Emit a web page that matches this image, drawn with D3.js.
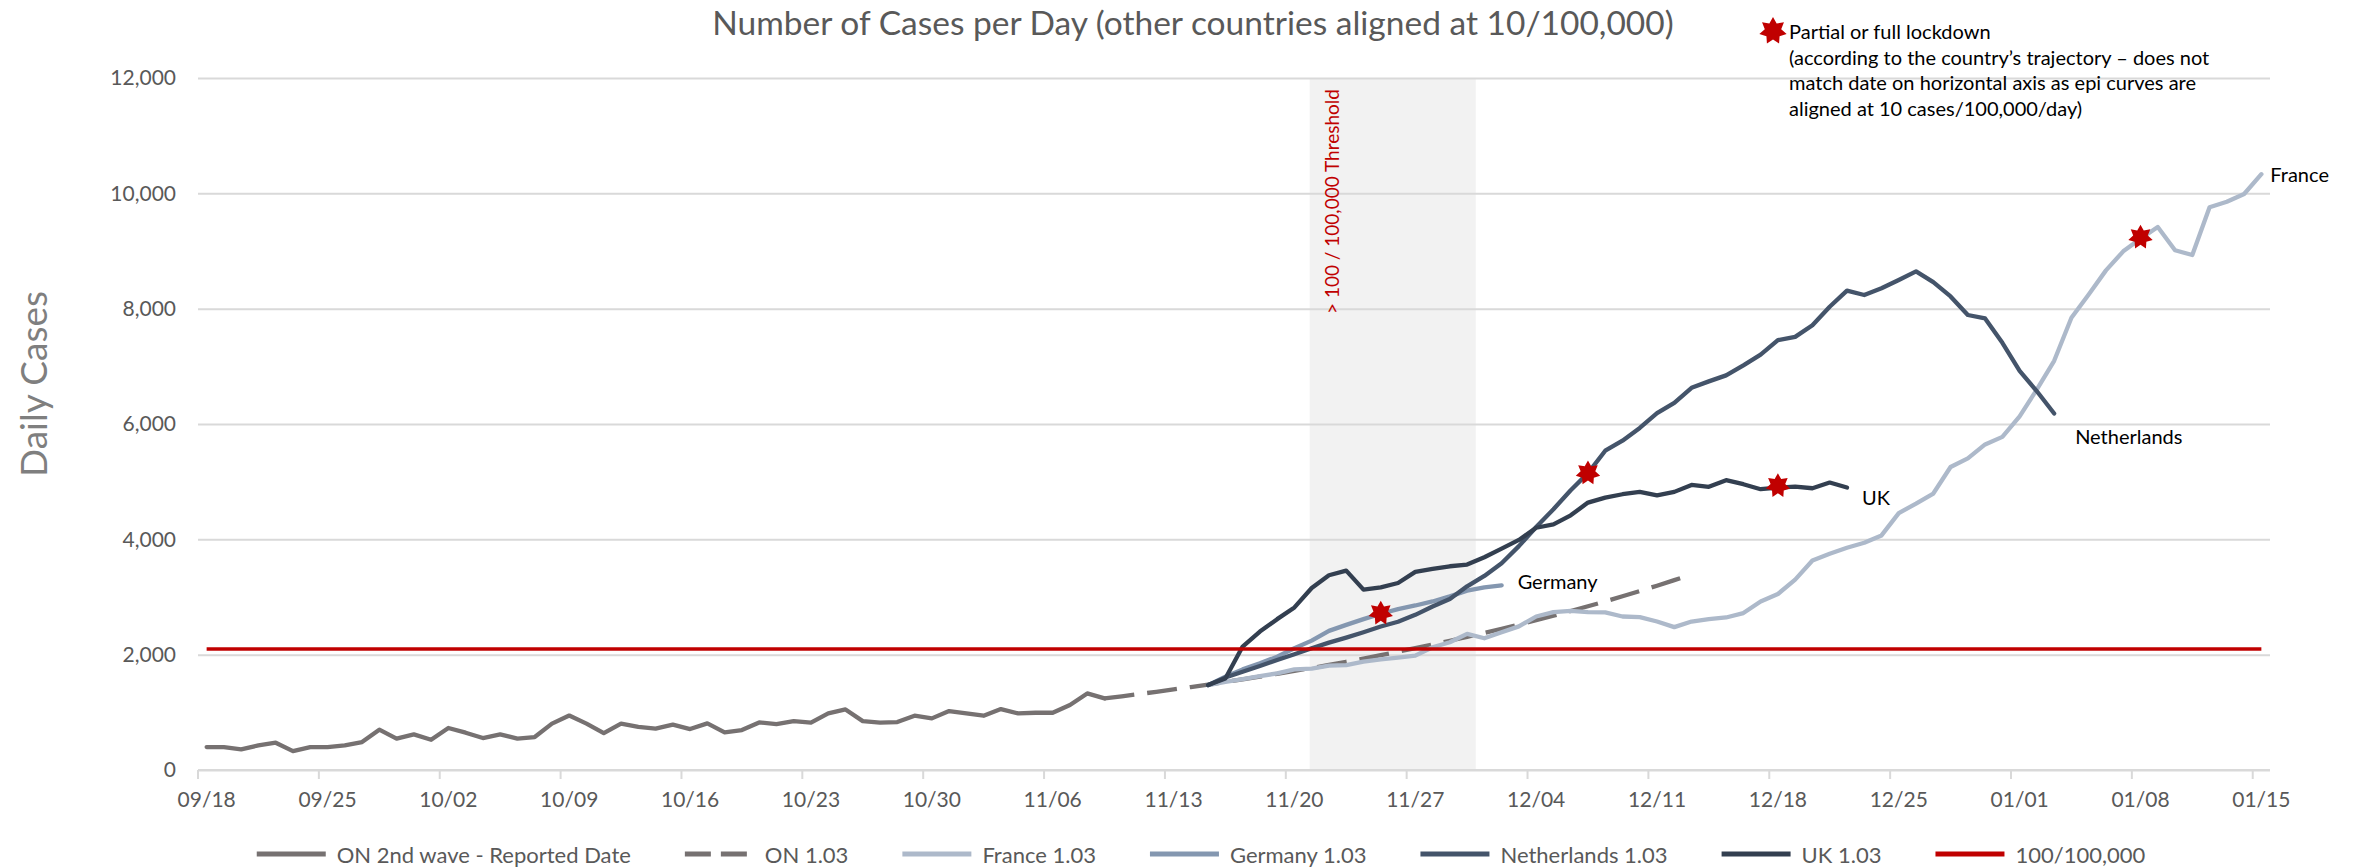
<!DOCTYPE html>
<html>
<head>
<meta charset="utf-8">
<script src="https://cdn.jsdelivr.net/npm/d3@7"></script>
<style>
  body { margin: 0; background: #fff; }
  svg { display: block; font-family: Lato, "Open Sans", sans-serif; }
</style>
</head>
<body>
<svg id="chart" width="2356" height="867"></svg>
<script>
// Daily cases: Ontario second wave vs. other countries aligned at 10/100,000

// ---- data ----
// one category per day, 09/18/2020 .. 01/15/2021
const categories = d3.timeDay.range(new Date(2020, 8, 18), new Date(2021, 0, 16)).map(d3.timeFormat("%m/%d"));
const tickLabels = ["09/18", "09/25", "10/02", "10/09", "10/16", "10/23", "10/30", "11/06", "11/13",
    "11/20", "11/27", "12/04", "12/11", "12/18", "12/25", "01/01", "01/08", "01/15"];
const yTicks = [0, 2000, 4000, 6000, 8000, 10000, 12000];

// ON 2nd wave - reported date, from 09/18
const onReportedStart = "09/18";
const onReported = [397, 397, 357, 427, 473, 328, 397, 397, 427, 485, 700, 543, 618, 525, 729, 647,
    554, 618, 543, 572, 804, 944, 804, 641, 804, 746, 717, 787, 710, 808, 652, 693, 825, 797, 848,
    820, 981, 1050, 848, 820, 831, 941, 895, 1022, 981, 941, 1056, 981, 993, 993, 1126, 1328, 1241];

// ON 1.03 projection, from 11/09
const onProjectionStart = "11/09";
const onProjection = [1241, 1278, 1317, 1356, 1397, 1439, 1482, 1526, 1572, 1619, 1668, 1718, 1769,
    1822, 1877, 1933, 1991, 2051, 2113, 2176, 2241, 2309, 2378, 2449, 2523, 2598, 2676, 2757, 2839,
    2924, 3012, 3103, 3196, 3292, 3390];

// other countries, aligned to start on 11/15
const countriesStart = "11/15";
const france = [1472, 1530, 1577, 1629, 1675, 1745, 1757, 1809, 1820, 1879, 1919, 1948, 1983, 2128,
    2215, 2360, 2285, 2389, 2490, 2662, 2738, 2761, 2738, 2732, 2662, 2651, 2575, 2477, 2575, 2616,
    2645, 2721, 2923, 3052, 3301, 3632, 3749, 3853, 3940, 4068, 4455, 4620, 4794, 5255, 5403, 5646,
    5777, 6132, 6599, 7096, 7843, 8247, 8664, 8994, 9211, 9417, 9013, 8931, 9759, 9853, 9989, 10332];
const germany = [1472, 1617, 1745, 1850, 1965, 2111, 2244, 2413, 2517, 2616, 2709, 2790, 2853, 2923,
    3011, 3109, 3168, 3202];
const netherlands = [1472, 1603, 1704, 1803, 1908, 2006, 2111, 2209, 2296, 2389, 2488, 2570, 2691,
    2836, 2964, 3185, 3365, 3586, 3882, 4213, 4521, 4852, 5148, 5537, 5711, 5932, 6187, 6367, 6628,
    6739, 6843, 7017, 7203, 7453, 7511, 7714, 8034, 8312, 8237, 8353, 8498, 8647, 8460, 8212, 7890,
    7830, 7407, 6922, 6567, 6182];
const uk = [1472, 1588, 2140, 2401, 2616, 2819, 3156, 3377, 3458, 3127, 3168, 3243, 3435, 3487, 3533,
    3562, 3690, 3840, 3990, 4201, 4259, 4416, 4637, 4724, 4782, 4823, 4764, 4823, 4944, 4910, 5026,
    4956, 4869, 4898, 4915, 4886, 4985, 4898];

// 100/100,000 threshold (per day)
const threshold = 2100;

// shaded "> 100 / 100,000" period
const shadeStart = "11/21";
const shadeEnd = "11/30";

// lockdown markers (date on the aligned axis, value)
const lockdownDates = ["11/25", "12/07", "12/18", "01/08"];
const lockdownValues = [2720, 5150, 4930, 9240];

const annotationLines = [
    "Partial or full lockdown",
    "(according to the country\u2019s trajectory \u2013 does not",
    "match date on horizontal axis as epi curves are",
    "aligned at 10 cases/100,000/day)"
];

// ---- layout ----
const plot = { left: 198, right: 2270, top: 78, bottom: 770 };
const RED = "#c00000";
const GRID = "#d9d9d9";
const TEXT = "#595959";

const svg = d3.select("#chart");

const x = d3.scaleBand().domain(categories).range([plot.left, plot.right]).padding(0);
const cx = d => x(d) + x.bandwidth() / 2;
const y = d3.scaleLinear().domain([0, 12000]).range([plot.bottom, plot.top]);

function toPoints(start, values) {
    const i0 = categories.indexOf(start);
    return values.map((v, k) => ({ cat: categories[i0 + k], v }));
}

const series = [
    { name: "ON 2nd wave - Reported Date", color: "#767171", dash: null, points: toPoints(onReportedStart, onReported) },
    { name: "ON 1.03", color: "#767171", dash: "30,13", points: toPoints(onProjectionStart, onProjection) },
    { name: "France 1.03", color: "#adb9ca", dash: null, points: toPoints(countriesStart, france), label: "France", dx: 9, dy: 0 },
    { name: "Germany 1.03", color: "#8497b0", dash: null, points: toPoints(countriesStart, germany), label: "Germany", dx: 16, dy: -4 },
    { name: "Netherlands 1.03", color: "#44546a", dash: null, points: toPoints(countriesStart, netherlands), label: "Netherlands", dx: 21, dy: 22 },
    { name: "UK 1.03", color: "#333f50", dash: null, points: toPoints(countriesStart, uk), label: "UK", dx: 15, dy: 9 }
];

// shaded band
svg.append("rect")
    .attr("x", cx(shadeStart) - 2)
    .attr("y", y(12000))
    .attr("width", x(shadeEnd) + x.bandwidth() - cx(shadeStart) + 2)
    .attr("height", y(0) - y(12000))
    .attr("fill", "#f2f2f2");

// y gridlines + labels
const yAxis = svg.append("g")
    .attr("transform", `translate(${plot.left},0)`)
    .call(d3.axisLeft(y).tickValues(yTicks).tickFormat(d3.format(","))
        .tickSize(-(plot.right - plot.left)).tickPadding(22));
yAxis.select(".domain").remove();
yAxis.selectAll(".tick line").attr("stroke", GRID).attr("stroke-width", 2);
yAxis.selectAll(".tick text").attr("fill", TEXT).style("font-size", "21px").style("font-family", "Lato, 'Open Sans', sans-serif");

// x axis: labels centred on categories, tick marks on category edges
const xAxis = svg.append("g")
    .attr("transform", `translate(0,${plot.bottom})`)
    .call(d3.axisBottom(x).tickValues(tickLabels).tickSize(0).tickPadding(22));
xAxis.select(".domain").remove();
xAxis.selectAll(".tick text").attr("fill", TEXT).style("font-size", "21px").style("font-family", "Lato, 'Open Sans', sans-serif");

svg.append("line")
    .attr("x1", plot.left).attr("x2", plot.right)
    .attr("y1", y(0)).attr("y2", y(0))
    .attr("stroke", GRID).attr("stroke-width", 2);
svg.append("g").selectAll("line")
    .data(tickLabels)
    .join("line")
    .attr("x1", d => x(d)).attr("x2", d => x(d))
    .attr("y1", y(0)).attr("y2", y(0) + 9)
    .attr("stroke", GRID).attr("stroke-width", 2);

// vertical threshold note in the band
svg.append("text")
    .attr("transform", `translate(${cx(shadeStart) + 20},314) rotate(-90)`)
    .attr("fill", RED)
    .style("font-size", "19px")
    .attr("dominant-baseline", "central")
    .text("> 100 / 100,000 Threshold");

// lines
const line = d3.line().x(d => cx(d.cat)).y(d => y(d.v));
svg.append("g").selectAll("path")
    .data(series)
    .join("path")
    .attr("d", d => line(d.points))
    .attr("fill", "none")
    .attr("stroke", d => d.color)
    .attr("stroke-width", 4.3)
    .attr("stroke-linejoin", "round")
    .attr("stroke-linecap", d => d.dash ? "butt" : "round")
    .attr("stroke-dasharray", d => d.dash);

// threshold line
svg.append("line")
    .attr("x1", cx(categories[0])).attr("x2", cx(categories[categories.length - 1]))
    .attr("y1", y(threshold)).attr("y2", y(threshold))
    .attr("stroke", RED).attr("stroke-width", 3.5);

// series end labels
svg.append("g").selectAll("text")
    .data(series.filter(s => s.label))
    .join("text")
    .attr("x", d => cx(d.points[d.points.length - 1].cat) + d.dx)
    .attr("y", d => y(d.points[d.points.length - 1].v) + d.dy)
    .attr("dominant-baseline", "central")
    .attr("fill", "#000")
    .style("font-size", "20px")
    .text(d => d.label);

// 7-point star for lockdowns
const star7 = {
    draw(context, size) {
        const R = Math.sqrt(size) / 2, r = R * 0.6;
        for (let k = 0; k < 14; k++) {
            const a = -Math.PI / 2 + k * Math.PI / 7;
            const rad = k % 2 ? r : R;
            const px = rad * Math.cos(a), py = rad * Math.sin(a);
            if (k === 0) context.moveTo(px, py); else context.lineTo(px, py);
        }
        context.closePath();
    }
};
const starPath = d3.symbol().type(star7).size(25 * 25);

svg.append("g").selectAll("path")
    .data(lockdownDates.map((d, i) => ({ cat: d, v: lockdownValues[i] })))
    .join("path")
    .attr("transform", d => `translate(${cx(d.cat)},${y(d.v)})`)
    .attr("d", starPath)
    .attr("fill", RED);

// lockdown note, top right
svg.append("path")
    .attr("transform", "translate(1773,31)")
    .attr("d", d3.symbol().type(star7).size(28 * 28))
    .attr("fill", RED);
svg.append("g").selectAll("text")
    .data(annotationLines)
    .join("text")
    .attr("x", 1789)
    .attr("y", (d, i) => 31 + i * 25.7)
    .attr("dominant-baseline", "central")
    .attr("fill", "#000")
    .style("font-size", "20px")
    .text(d => d);

// title
svg.append("text")
    .attr("x", 1193).attr("y", 35)
    .attr("text-anchor", "middle")
    .attr("fill", TEXT)
    .style("font-size", "33.5px")
    .text("Number of Cases per Day (other countries aligned at 10/100,000)");

// y axis title
svg.append("text")
    .attr("transform", "translate(32,384) rotate(-90)")
    .attr("text-anchor", "middle")
    .attr("dominant-baseline", "central")
    .attr("fill", "#7f7f7f")
    .style("font-size", "37px")
    .text("Daily Cases");

// legend: items laid out left to right, then centred
const legendItems = series.map(s => ({ name: s.name, color: s.color, dash: s.dash }))
    .concat([{ name: "100/100,000", color: RED, dash: null }]);
const legend = svg.append("g");
const items = legend.selectAll("g")
    .data(legendItems)
    .join("g");
items.append("line")
    .attr("x1", 0).attr("x2", 69)
    .attr("stroke", d => d.color)
    .attr("stroke-width", 5)
    .attr("stroke-dasharray", d => d.dash ? "26,10" : null);
items.append("text")
    .attr("x", 80)
    .attr("dominant-baseline", "central")
    .attr("fill", TEXT)
    .style("font-size", "22px")
    .text(d => d.name);

let offset = 0;
items.each(function () {
    const g = d3.select(this);
    g.attr("transform", `translate(${offset},0)`);
    offset += 80 + g.select("text").node().getComputedTextLength() + 54;
});
const legendWidth = offset - 54;
legend.attr("transform", `translate(${1201 - legendWidth / 2},854)`);
</script>
</body>
</html>
